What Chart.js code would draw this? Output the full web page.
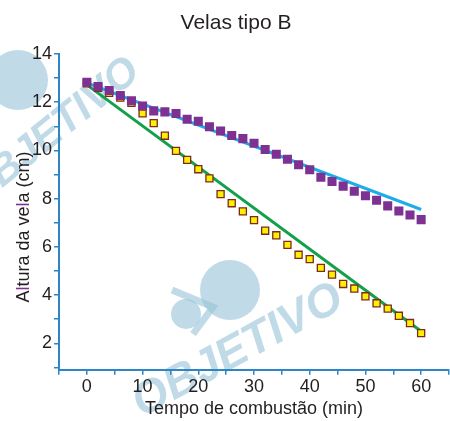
<!DOCTYPE html>
<html>
<head>
<meta charset="utf-8">
<script src="https://cdn.jsdelivr.net/npm/chart.js@4/dist/chart.umd.min.js"></script>
<style>
  html, body { margin: 0; padding: 0; background: #fff; }
  #wrap { width: 450px; height: 421px; }
</style>
</head>
<body>
<div id="wrap"><canvas id="chart" width="450" height="421"></canvas></div>
<script>
// tempo (min)
const times = [0, 2, 4, 6, 8, 10, 12, 14, 16, 18, 20, 22, 24, 26, 28, 30,
               32, 34, 36, 38, 40, 42, 44, 46, 48, 50, 52, 54, 56, 58, 60];

// altura das velas (cm)
const purpleHeights = [12.83, 12.65, 12.49, 12.28, 12.06, 11.84, 11.64, 11.60, 11.53, 11.29, 11.21,
                       10.98, 10.81, 10.62, 10.49, 10.30, 10.04, 9.84, 9.63, 9.41, 9.20,
                       8.89, 8.71, 8.52, 8.31, 8.12, 7.93, 7.70, 7.49, 7.32, 7.13];
const yellowHeights = [12.78, 12.60, 12.39, 12.19, 11.97, 11.54, 11.13, 10.61, 9.98, 9.61, 9.22,
                       8.84, 8.19, 7.81, 7.47, 7.11, 6.67, 6.48, 6.08, 5.67, 5.49,
                       5.13, 4.85, 4.46, 4.27, 3.95, 3.66, 3.44, 3.14, 2.84, 2.42];

// retas ajustadas (inicio e fim)
const fitTimes = [0, 60];
const blueFit = [12.8, 7.55];
const greenFit = [12.72, 2.5];

const xTickLabels = [0, 10, 20, 30, 40, 50, 60];
const yTickLabels = [2, 4, 6, 8, 10, 12, 14];

const axisColor = "#2b85c7";
const textColor = "#231f20";
const watermark = "rgba(150, 195, 215, 0.6)";

function pairs(xs, ys) {
    return xs.map((x, i) => ({ x: x, y: ys[i] }));
}

// marca d'agua + titulo + titulo do eixo y
const decorPlugin = {
    id: "decor",
    beforeDraw(chart) {
        const ctx = chart.ctx;
        ctx.save();
        ctx.fillStyle = watermark;
        ctx.strokeStyle = watermark;

        // logo de cima
        ctx.beginPath();
        ctx.arc(18, 80, 30, 0, Math.PI * 2);
        ctx.fill();
        ctx.save();
        ctx.translate(0, 190);
        ctx.rotate(-0.68);
        ctx.font = "bold italic 42px 'Liberation Sans', Arial, sans-serif";
        ctx.fillText("OBJETIVO", -30, 0);
        ctx.restore();

        // logo de baixo
        ctx.beginPath();
        ctx.arc(230, 290, 30, 0, Math.PI * 2);
        ctx.fill();
        ctx.beginPath();
        ctx.arc(186, 314, 15, 0, Math.PI * 2);
        ctx.fill();
        ctx.lineWidth = 7;
        ctx.beginPath();
        ctx.moveTo(172, 290);
        ctx.lineTo(213, 307);
        ctx.lineTo(193, 334);
        ctx.stroke();
        ctx.save();
        ctx.translate(142, 418);
        ctx.rotate(-0.5);
        ctx.font = "bold italic 46px 'Liberation Sans', Arial, sans-serif";
        ctx.fillText("OBJETIVO", 0, 0);
        ctx.restore();
        ctx.restore();
    },
    afterDraw(chart) {
        const ctx = chart.ctx;
        ctx.save();
        ctx.fillStyle = textColor;
        ctx.font = "21px 'Liberation Sans', Arial, sans-serif";
        ctx.textAlign = "center";
        ctx.textBaseline = "alphabetic";
        ctx.fillText("Velas tipo B", 236, 29);

        // "Altura da vela (cm)" com os "l" em roxo
        ctx.font = "18px 'Liberation Sans', Arial, sans-serif";
        const parts = [["A", textColor], ["l", "#7d3193"], ["tura da ve", textColor],
                       ["l", "#7d3193"], ["a (cm)", textColor]];
        const total = parts.reduce((s, p) => s + ctx.measureText(p[0]).width, 0);
        ctx.translate(29, 227);
        ctx.rotate(-Math.PI / 2);
        ctx.textAlign = "left";
        let pos = -total / 2;
        parts.forEach(p => {
            ctx.fillStyle = p[1];
            ctx.fillText(p[0], pos, 0);
            pos += ctx.measureText(p[0]).width;
        });
        ctx.restore();
    }
};

const ctx = document.getElementById("chart").getContext("2d");
new Chart(ctx, {
    type: "scatter",
    data: {
        datasets: [
            {
                label: "Vela roxa",
                data: pairs(times, purpleHeights),
                pointStyle: "rect",
                pointRadius: 6.4,
                backgroundColor: "#7d3193",
                borderColor: "#7d3193",
                borderWidth: 0
            },
            {
                label: "Vela amarela",
                data: pairs(times, yellowHeights),
                pointStyle: "rect",
                pointRadius: 5,
                backgroundColor: "#fff000",
                borderColor: "#7a2b1c",
                borderWidth: 1.3
            },
            {
                label: "Ajuste roxo",
                type: "line",
                data: pairs(fitTimes, blueFit),
                borderColor: "#1caee8",
                borderWidth: 3,
                pointRadius: 0,
                fill: false
            },
            {
                label: "Ajuste amarelo",
                type: "line",
                data: pairs(fitTimes, greenFit),
                borderColor: "#13a04a",
                borderWidth: 3,
                pointRadius: 0,
                fill: false
            }
        ]
    },
    options: {
        responsive: false,
        animation: false,
        layout: { autoPadding: false, padding: { left: 30, top: 54, right: 0, bottom: 1 } },
        plugins: {
            legend: { display: false },
            tooltip: { enabled: false }
        },
        scales: {
            x: {
                type: "linear",
                min: -5,
                max: 65,
                afterBuildTicks: scale => {
                    const t = [];
                    for (let v = -5; v <= 65; v += 5) t.push({ value: v });
                    scale.ticks = t;
                },
                ticks: {
                    autoSkip: false,
                    maxRotation: 0,
                    padding: 1,
                    color: textColor,
                    font: { size: 18, family: "'Liberation Sans', Arial, sans-serif" },
                    callback: v => xTickLabels.includes(v) ? String(v) : ""
                },
                grid: {
                    drawOnChartArea: false,
                    drawTicks: true,
                    tickLength: 5,
                    color: axisColor,
                    lineWidth: 1.5
                },
                border: { color: axisColor, width: 2 },
                title: {
                    display: true,
                    text: "Tempo de combustão (min)",
                    color: textColor,
                    font: { size: 18, family: "'Liberation Sans', Arial, sans-serif" },
                    padding: { top: 0, bottom: 0 }
                }
            },
            y: {
                type: "linear",
                min: 0.9,
                max: 14,
                afterBuildTicks: scale => {
                    const t = [];
                    for (let v = 1; v <= 14; v += 1) t.push({ value: v });
                    scale.ticks = t;
                },
                ticks: {
                    autoSkip: false,
                    padding: 2,
                    color: textColor,
                    font: { size: 18, family: "'Liberation Sans', Arial, sans-serif" },
                    callback: v => yTickLabels.includes(v) ? String(v) : ""
                },
                grid: {
                    drawOnChartArea: false,
                    drawTicks: true,
                    tickLength: 5,
                    color: axisColor,
                    lineWidth: 1.5
                },
                border: { color: axisColor, width: 2 }
            }
        }
    },
    plugins: [decorPlugin]
});
</script>
</body>
</html>
